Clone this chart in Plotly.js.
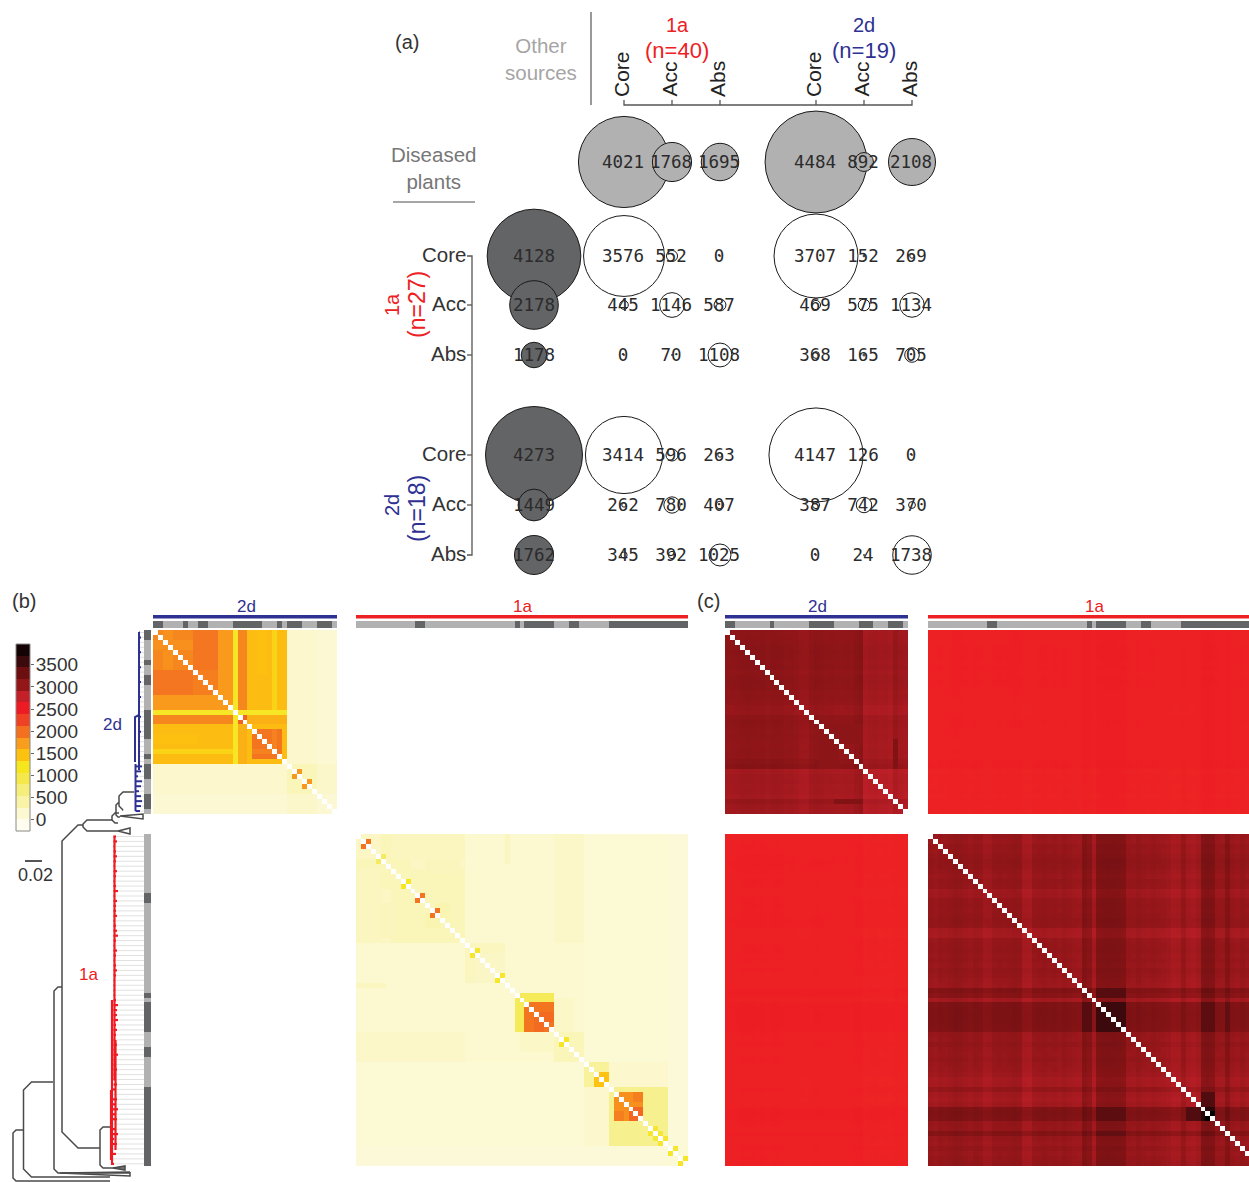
<!DOCTYPE html>
<html><head><meta charset="utf-8">
<script src="https://cdn.plot.ly/plotly-3.0.1.min.js"></script>
<style>html,body{margin:0;padding:0;background:#fff}#g{width:1249px;height:1182px}</style>
</head><body><div id="g"></div>
<script>
// ---------- (a) overlap counts ----------
const srcLabels = ['Core','Acc','Abs','Core','Acc','Abs'];
const diseased = [4021,1768,1695,4484,892,2108];
const otherSources = [4128,2178,1178,4273,1449,1762];
const cross1aCore = [3576,552,0,3707,152,269];
const cross1aAcc  = [445,1146,587,469,575,1134];
const cross1aAbs  = [0,70,1108,368,165,705];
const cross2dCore = [3414,596,263,4147,126,0];
const cross2dAcc  = [262,780,407,387,742,370];
const cross2dAbs  = [345,392,1025,0,24,1738];

// ---------- (b,c) isolate classes: 1 = dark strip, 0 = light strip ----------
const class2dB = [1,1,0,0,0,0,1,0,0,1,1,0,0,0,0,0,1,1,1,1,1,1,0,0,0,1,0,1,1,1,0,0,0,1,1,1,0];
const class2dC = [1,1,0,0,0,0,0,0,0,1,0,0,0,0,0,0,0,1,1,1,1,1,0,0,0,0,0,1,1,1,0,0,0,1,1,1,0];
const class1a = [0,0,0,0,0,0,0,0,0,0,0,0,1,1,0,0,0,0,0,0,0,0,0,0,0,0,0,0,0,0,0,0,1,0,1,1,1,1,1,1,0,0,0,1,1,0,0,0,0,0,0,1,1,1,1,1,1,1,1,1,1,1,1,1,1,1,1];

// ---------- (b) accessory-genome distance blocks [r0,r1,c0,c1,value] ----------
const pav2dBlocks = [
 [0,36,0,36,170],[33,36,0,36,130],
 [0,26,0,26,1500],
 [0,15,0,15,1850],[8,12,0,5,1960],[0,7,8,12,1950],[8,12,8,12,1900],[13,15,0,15,1740],[0,7,2,3,1800],
 [17,18,0,15,1850],[0,15,19,26,1600],[0,15,24,24,1370],[13,15,19,26,1480],[8,9,19,23,1530],
 [17,18,19,26,1560],[19,26,17,18,1580],[19,26,0,15,1500],[24,24,0,15,1340],[21,22,0,8,1470],
 [16,16,0,26,1150],[17,18,17,18,2060],
 [20,25,20,25,1960],[24,24,20,23,1880],
 [27,32,27,32,300],[28,29,28,29,1750],[30,31,30,31,1750],[27,32,33,36,180]
];
const pav1aBlocks = [
 [0,66,0,66,110],[0,45,0,45,160],[0,21,0,21,230],[7,20,8,21,300],[14,20,2,7,280],[5,6,0,10,300],[0,4,7,21,250],[16,18,14,16,360],
 [22,29,22,29,260],[24,27,24,29,220],[40,45,0,21,200],[40,45,40,45,300],[33,39,40,43,210],
 [30,30,0,5,260],[32,39,32,39,860],[34,39,34,39,1960],[36,39,36,37,2020],
 [46,62,46,62,170],[46,50,46,50,480],[48,50,48,50,1450],
 [51,62,51,62,560],[52,57,52,57,1800],[55,57,55,57,2040],[52,53,56,57,1900],
 [1,2,1,2,1960],[4,5,4,5,800],[9,10,9,10,1150],[12,13,12,13,1960],[15,16,15,16,1960],
 [23,24,23,24,1100],[28,29,28,29,1120],[41,42,41,42,1150],[59,60,59,60,1100],[60,61,60,61,1060],[61,62,61,62,1100],
 [63,64,63,64,1100],[65,66,65,66,1150],[63,66,0,62,80]
];
// ---------- (c) core-genome distance: read row/column shading around a base, plus dark blocks ----------
const core2dBase = 2950;
const core2dShade = [55,60,70,85,90,85,75,85,60,80,85,75,55,60,45,10,5,60,75,65,50,55,45,40,50,45,85,110,-65,-45,-40,-55,-50,-70,10,-30,-45];
const core2dBlocks = [[34,34,22,27,3160],[19,22,20,27,3090]];
const core1aBase = 3000;
const core1aShade = [10,-10,20,10,30,55,45,20,0,30,20,-40,-30,20,30,20,30,50,40,-60,-70,10,20,30,10,20,0,30,10,-10,-20,150,100,-50,165,175,180,175,170,160,20,10,40,10,0,20,0,-10,-30,-70,-60,30,-50,-70,-40,165,180,165,20,10,140,10,-10,30,0,20,30];
const core1aBlocks = [
 [34,39,34,39,3560],[31,31,34,39,3480],[32,32,34,39,3330],[34,39,31,32,3420],
 [55,57,52,54,3450],[55,57,34,39,3400],[55,57,55,57,3680],[56,57,56,57,3930],[60,60,34,39,3360]
];
const crossBase = 2480;

// ---------- shared colour key ----------
const keyBins = [-125,139,403,667,931,1195,1459,1723,1987,2251,2515,2779,3043,3307,3571,3836];
const keyColours = ['#ffffff','#fcf8d2','#f9f3a8','#f6ee7c','#f5e84a','#f6e61e','#fdc20f','#f99d1c','#f37021','#ef4123','#ed1c24','#c4202a','#931619','#6d0f11','#3a0a0d','#000000'];
const keyTicks = [0,500,1000,1500,2000,2500,3000,3500];

// ---------- tree: tip spread of the tips ----------
const tips1a = [116,117,115,116,117,116,115,117,116,115,116,118,115,117,116,116,117,115,116,117,118,116,115,117,116,115,116,117,116,115,114,113,114,116,118,117,117,118,116,117,116,115,117,116,118,115,116,117,115,116,117,116,113,117,116,118,115,117,112,116,118,114,117,113,116,112,114];
const tips2d = [140,141,140,140,141,140,140,141,140,140,141,140,140,141,140,140,140,141,140,140,141,139,139,140,139,139,140,142,141,138,142,141,139,141,142,141,140];

// ---------- page geometry ----------
const W = 1249, H = 1182;
const domX = (a,b)=>[Math.max(0,a/W),Math.min(1,b/W)];
const domY = (t,b)=>[1-b/H,1-t/H];
const keyMin=-257,keyMax=3969;
const scale = keyColours.map((c,i)=>[(keyBins[i]-keyMin)/(keyMax-keyMin),c]);
scale[0][0]=0; scale[15][0]=1;

function fill(n,m,v){return Array.from({length:n},()=>Array(m).fill(v));}
function paint(n,blocks){
  const z=fill(n,n,0);
  for(const [r0,r1,c0,c1,v] of blocks){
    for(let r=r0;r<=r1;r++)for(let c=c0;c<=c1;c++){z[r][c]=v;z[c][r]=v;}
  }
  for(let i=0;i<n;i++)z[i][i]=null;
  return z;
}
function plaid(base,shade,blocks){
  const n=shade.length,z=fill(n,n,0);
  for(let r=0;r<n;r++)for(let c=0;c<n;c++)z[r][c]=base+shade[r]+shade[c];
  for(const [r0,r1,c0,c1,v] of blocks){
    for(let r=r0;r<=r1;r++)for(let c=c0;c<=c1;c++){z[r][c]=v;z[c][r]=v;}
  }
  for(let i=0;i<n;i++)z[i][i]=null;
  return z;
}
function cross(rs,cs){
  return rs.map(a=>cs.map(b=>crossBase+0.1*a+0.1*b));
}

const layout={width:W,height:H,margin:{l:0,r:0,t:0,b:0},paper_bgcolor:'#fff',plot_bgcolor:'rgba(0,0,0,0)',showlegend:false,
  font:{family:'Liberation Sans, Arial, sans-serif',color:'#333'},hovermode:false};
const traces=[];
let axN=1;
function newAxes(xd,yd,xr,yr,extraY){
  axN++;
  layout['xaxis'+axN]={domain:xd,range:xr,visible:false,fixedrange:true,anchor:'y'+axN};
  layout['yaxis'+axN]=Object.assign({domain:yd,range:yr,visible:false,fixedrange:true,anchor:'x'+axN},extraY||{});
  return {xaxis:'x'+axN,yaxis:'y'+axN};
}
function panel(z,l,t,r,b,ncolShown){
  const nr=z.length,nc=z[0].length,cols=ncolShown||nc;
  const ax=newAxes(domX(l,r),domY(t,b),[-0.5,cols-0.5],[nr-0.5,-0.5]);
  traces.push(Object.assign({type:'heatmap',z:z,zmin:keyMin,zmax:keyMax,colorscale:scale,showscale:false,hoverinfo:'skip',xgap:0,ygap:0},ax));
}
const stripScale=[[0,'#b1b1b1'],[1,'#636466']];
function stripH(cls,l,t,r,b,shown){
  const ax=newAxes(domX(l,r),domY(t,b),[-0.5,(shown||cls.length)-0.5],[-0.5,0.5]);
  traces.push(Object.assign({type:'heatmap',z:[cls],zmin:0,zmax:1,colorscale:stripScale,showscale:false,hoverinfo:'skip'},ax));
}
function stripV(cls,l,t,r,b){
  const ax=newAxes(domX(l,r),domY(t,b),[-0.5,0.5],[cls.length-0.5,-0.5]);
  traces.push(Object.assign({type:'heatmap',z:cls.map(v=>[v]),zmin:0,zmax:1,colorscale:stripScale,showscale:false,hoverinfo:'skip'},ax));
}

// matrices
const cell=4.96;
const px2dL=153,px2dR=337,py2dT=630,py2dB=814;
const px1aL=356,px1aR=688,py1aT=834,py1aB=1166;
const cx2dL=725,cx2dR=908,cx1aL=928;
const shown1a=(W-cx1aL)/cell;
panel(paint(37,pav2dBlocks),px2dL,py2dT,px2dR,py2dB);
panel(paint(67,pav1aBlocks),px1aL,py1aT,px1aR,py1aB);
panel(plaid(core2dBase,core2dShade,core2dBlocks),cx2dL,py2dT,cx2dR,py2dB);
panel(plaid(core1aBase,core1aShade,core1aBlocks),cx1aL,py1aT,W,py1aB,shown1a);
panel(cross(core2dShade,core1aShade),cx1aL,py2dT,W,py2dB,shown1a);
panel(cross(core1aShade,core2dShade),cx2dL,py1aT,cx2dR,py1aB);

// class strips
stripH(class2dB,px2dL,621,px2dR,628);
stripH(class1a,px1aL,621,px1aR,628);
stripH(class2dC,cx2dL,621,cx2dR,628);
stripH(class1a,cx1aL,621,W,628,shown1a);
stripV(class2dB,144,py2dT,151,py2dB);
stripV(class1a,144,py1aT,151,py1aB);

// colour key
const keyAx=newAxes(domX(16,30),domY(644,831),[-0.5,0.5],[keyMin,keyMax],{
  visible:true,side:'right',tickmode:'array',tickvals:keyTicks,ticks:'outside',ticklen:3,tickcolor:'#666',ticklabelstandoff:-2,
  showgrid:false,zeroline:false,showline:false,tickfont:{size:19,color:'#333',family:'Liberation Sans, Arial, sans-serif'}});
traces.push(Object.assign({type:'heatmap',z:keyBins.map(v=>[v]),x:[0],y:keyBins,zmin:keyMin,zmax:keyMax,colorscale:scale,showscale:false,hoverinfo:'skip'},keyAx));

// overlay page axis
layout.xaxis={domain:[0,1],range:[0,W],visible:false,fixedrange:true};
layout.yaxis={domain:[0,1],range:[H,0],visible:false,fixedrange:true};
function line(xs,ys,col,w,dash){
  traces.push({type:'scatter',mode:'lines',x:xs,y:ys,line:{color:col,width:w,dash:dash||'solid',simplify:false},hoverinfo:'skip',cliponaxis:false});
}
function br(xn,yt,xt,yb,xb,rad){
  const r=rad||3;
  return [[xt,xn+r,xn,xn,xn+r,xb],[yt,yt,yt+r,yb-r,yb,yb]];
}
const treeCol='#4a4a4a';
const brackets=[
 br(13,1130,23,1181,110,3), br(23.5,1082,53,1177,110,8), br(54,987,62,1173,130,4),
 br(62,825,83,1148,100,16), br(100,1127,111,1168,125,3), br(83,820,112,831,118,4),
 br(112,813,119,823,118,3), br(116,803,119,817,120,2), br(119,792,134,810,122,4)
];
const allX=[],allY=[];
brackets.forEach(b=>{allX.push(...b[0],null);allY.push(...b[1],null);});
const wedges=[[118,130,130,118,831,828,834,831],[120,143,143,120,816,814,819,816],[113,125,125,113,1168,1166,1170,1168],[130,130,60,130,1172,1176,1173,1172]];
wedges.forEach(w=>{allX.push(w[0],w[1],w[2],w[3],null);allY.push(w[4],w[5],w[6],w[7],null);});
line(allX,allY,treeCol,1.5);

// tip leaders
const lx=[],ly=[];
tips1a.forEach((t,i)=>{const y=py1aT+(i+0.5)*cell;lx.push(t,144,null);ly.push(y,y,null);});
tips2d.forEach((t,i)=>{const y=py2dT+(i+0.5)*cell;lx.push(t,144,null);ly.push(y,y,null);});
line(lx,ly,'#d4d4d4',0.7);
// red clade
const rx=[],ry=[];
tips1a.forEach((t,i)=>{const y=py1aT+(i+0.5)*cell;const tr=i>50?111.5:113.5;rx.push(tr,t,null);ry.push(y,y,null);});
rx.push(114.5,114.5,null,112,112,null,115.5,115.5,null,111,111);ry.push(836,1080,null,1000,1165,null,1040,1150,null,1090,1160);
line(rx,ry,'#ed1c24',2.2);
// blue clade
const ux=[],uy=[];
tips2d.forEach((t,i)=>{const y=py2dT+(i+0.5)*cell;const tr=i>=27?135.5:139;ux.push(tr,t,null);uy.push(y,y,null);});
ux.push(139,139,null,139,135,135,null,135.5,135.5);uy.push(632,770,null,715,717,762,null,764,811);
line(ux,uy,'#2e3192',2);

// scale bar
line([25,42],[861,861],'#555',2);

// (a) frame lines
const colPx=[624,672,720,816,864,912], rowPx=[256,305,355,455,505,555];
const sourceX=534, diseasedY=162;
line([624,624,912,912],[100,105,105,100],'#555',1.3);
colPx.slice(1,5).forEach(x=>line([x,x],[100,105],'#555',1.3));
line([467,472,472,467],[256,256,555,555],'#555',1.3);
rowPx.slice(1,5).forEach(y=>line([467,472],[y,y],'#555',1.3));
line([591,591],[12,105],'#999',2);
line([393,475],[202,202],'#888',1.5);

// (a) bubbles, with diameter linear in the count
const dia=v=>Math.max(1,0.0231*v-1.7);
function bubbles(xs,ys,vals,fillc){
  traces.push({type:'scatter',mode:'markers',x:xs,y:ys,cliponaxis:false,hoverinfo:'skip',
    marker:{size:vals.map(dia),sizemode:'diameter',sizeref:1,color:fillc,opacity:1,line:{color:'#1a1a1a',width:1}}});
}
const labelSets=[];
function labels(xs,ys,vals,dx){
  labelSets.push({type:'scatter',mode:'text',x:xs.map(x=>x+dx),y:ys.map(y=>y+2),text:vals.map(String),textposition:'middle center',
    textfont:{family:'DejaVu Sans Mono, monospace',size:17.5,color:'#2b2b2b'},cliponaxis:false,hoverinfo:'skip'});
}
bubbles(colPx,colPx.map(()=>diseasedY),diseased,'#b1b1b1');labels(colPx,colPx.map(()=>diseasedY),diseased,-1);
bubbles(rowPx.map(()=>sourceX),rowPx,otherSources,'#636466');labels(rowPx.map(()=>sourceX),rowPx,otherSources,0);
[cross1aCore,cross1aAcc,cross1aAbs,cross2dCore,cross2dAcc,cross2dAbs].forEach((row,i)=>{
  bubbles(colPx,colPx.map(()=>rowPx[i]),row,'rgba(255,255,255,0)');labels(colPx,colPx.map(()=>rowPx[i]),row,-1);
});
labelSets.forEach(t=>traces.push(t));

// text
const RED='#ed2024',BLUE='#2e3192';
const ann=[];
function T(x,y,text,size,color,opt){
  ann.push(Object.assign({xref:'x',yref:'y',x:x,y:y,text:text,showarrow:false,font:{size:size,color:color,family:'Liberation Sans, Arial, sans-serif'},xanchor:'center',yanchor:'middle',align:'center'},opt||{}));
}
T(407,42,'(a)',20,'#333');T(24,601,'(b)',20,'#333');T(708,601,'(c)',20,'#333');
T(541,59,'Other<br>sources',20.5,'#a5a5a5');
T(433,168,'Diseased<br>plants',20.5,'#777');
T(677,25,'1a',20,RED);T(677,50,'(n=40)',22,RED);
T(864,25,'2d',20,BLUE);T(864,50,'(n=19)',22,BLUE);
colPx.forEach((x,i)=>T(x-3,99,srcLabels[i],21,'#222',{textangle:-90,yanchor:'bottom'}));
rowPx.forEach((y,i)=>T(467.5,y-2,srcLabels[i],20.5,'#333',{xanchor:'right'}));
T(392,305,'1a',20,RED,{textangle:-90});T(417,305,'(n=27)',23,RED,{textangle:-90});
T(392,505,'2d',20,BLUE,{textangle:-90});T(417,509,'(n=18)',23,BLUE,{textangle:-90});
T(246,606,'2d',17,BLUE);T(522,606,'1a',17,RED);T(817,606,'2d',17,BLUE);T(1094,606,'1a',17,RED);
T(112,724,'2d',17,BLUE);T(88,974,'1a',17,RED);
T(35,875,'0.02',18,'#333');
layout.annotations=ann;

// header bars and key outline
layout.shapes=[
 {type:'rect',xref:'x',yref:'y',x0:px2dL,x1:px2dR,y0:615,y1:618.5,fillcolor:BLUE,line:{width:0}},
 {type:'rect',xref:'x',yref:'y',x0:px1aL,x1:px1aR,y0:615,y1:618.5,fillcolor:RED,line:{width:0}},
 {type:'rect',xref:'x',yref:'y',x0:cx2dL,x1:cx2dR,y0:615,y1:618.5,fillcolor:BLUE,line:{width:0}},
 {type:'rect',xref:'x',yref:'y',x0:cx1aL,x1:W,y0:615,y1:618.5,fillcolor:RED,line:{width:0}},
 {type:'rect',xref:'x',yref:'y',x0:16,x1:30,y0:644,y1:831,line:{color:'#888',width:1},fillcolor:'rgba(0,0,0,0)'}
];

Plotly.newPlot('g',traces,layout,{staticPlot:true,displayModeBar:false});
</script></body></html>
